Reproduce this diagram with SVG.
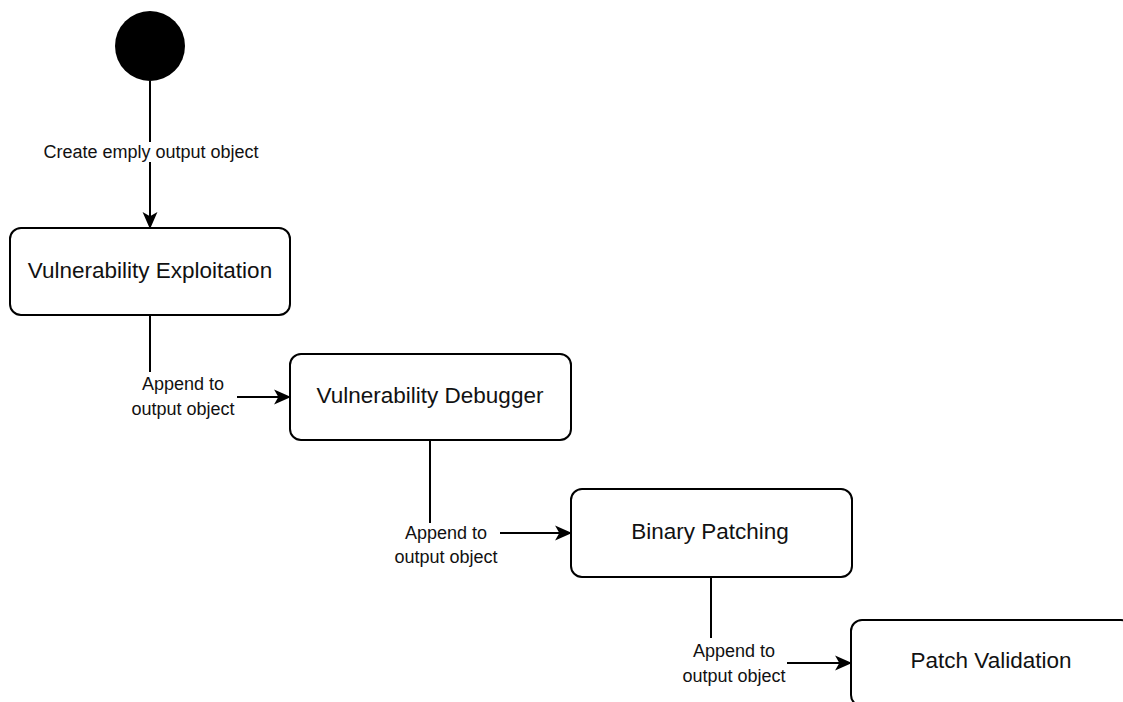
<svg xmlns="http://www.w3.org/2000/svg" width="1123" height="702" viewBox="0 0 1123 702">
<style>
.node rect{fill:#fff;stroke:#000;stroke-width:2}
.node text{font-family:"Liberation Sans",Arial,sans-serif;font-size:22.5px;fill:#111;text-anchor:middle}
.edge{fill:none;stroke:#000;stroke-width:2}
.lbl{font-family:"Liberation Sans",Arial,sans-serif;font-size:18px;fill:#111;text-anchor:middle}
.lblbg{fill:#fff}
</style>
<defs>
<marker id="arr" viewBox="0 0 16 16" refX="15" refY="8" markerWidth="17" markerHeight="17" markerUnits="userSpaceOnUse" orient="auto">
<path d="M0,1 L16,8 L0,15 L4,8 Z" fill="#000"/>
</marker>
</defs>
<rect width="1123" height="702" fill="#fff"/>
<g id="connectors">
<path class="edge" d="M150,81 L150,228" marker-end="url(#arr)"/>
<rect class="lblbg" x="40" y="142" width="222" height="20"/>
<text class="lbl" x="151" y="158">Create emply output object</text>
<path class="edge" d="M150,315 L150,397 L290,397" marker-end="url(#arr)"/>
<rect class="lblbg" x="128" y="372" width="109" height="50"/>
<text class="lbl" x="183" y="390">Append to</text>
<text class="lbl" x="183" y="415">output object</text>
<path class="edge" d="M430,440 L430,533 L571,533" marker-end="url(#arr)"/>
<rect class="lblbg" x="392" y="523" width="108" height="46"/>
<text class="lbl" x="446" y="539">Append to</text>
<text class="lbl" x="446" y="563">output object</text>
<path class="edge" d="M711,577 L711,663 L851,663" marker-end="url(#arr)"/>
<rect class="lblbg" x="680" y="638" width="107" height="50"/>
<text class="lbl" x="734" y="657">Append to</text>
<text class="lbl" x="734" y="682">output object</text>
</g>
<g id="start">
<circle cx="150" cy="46" r="35" fill="#000"/>
</g>
<g id="n1" class="node">
<rect x="10" y="228" width="280" height="87" rx="11"/>
<text x="150" y="278">Vulnerability Exploitation</text>
</g>
<g id="n2" class="node">
<rect x="290" y="354" width="281" height="86" rx="11"/>
<text x="430" y="403">Vulnerability Debugger</text>
</g>
<g id="n3" class="node">
<rect x="571" y="489" width="281" height="88" rx="11"/>
<text x="710" y="539">Binary Patching</text>
</g>
<g id="n4" class="node">
<rect x="851" y="620" width="281" height="86" rx="11"/>
<text x="991" y="668">Patch Validation</text>
</g>
</svg>
